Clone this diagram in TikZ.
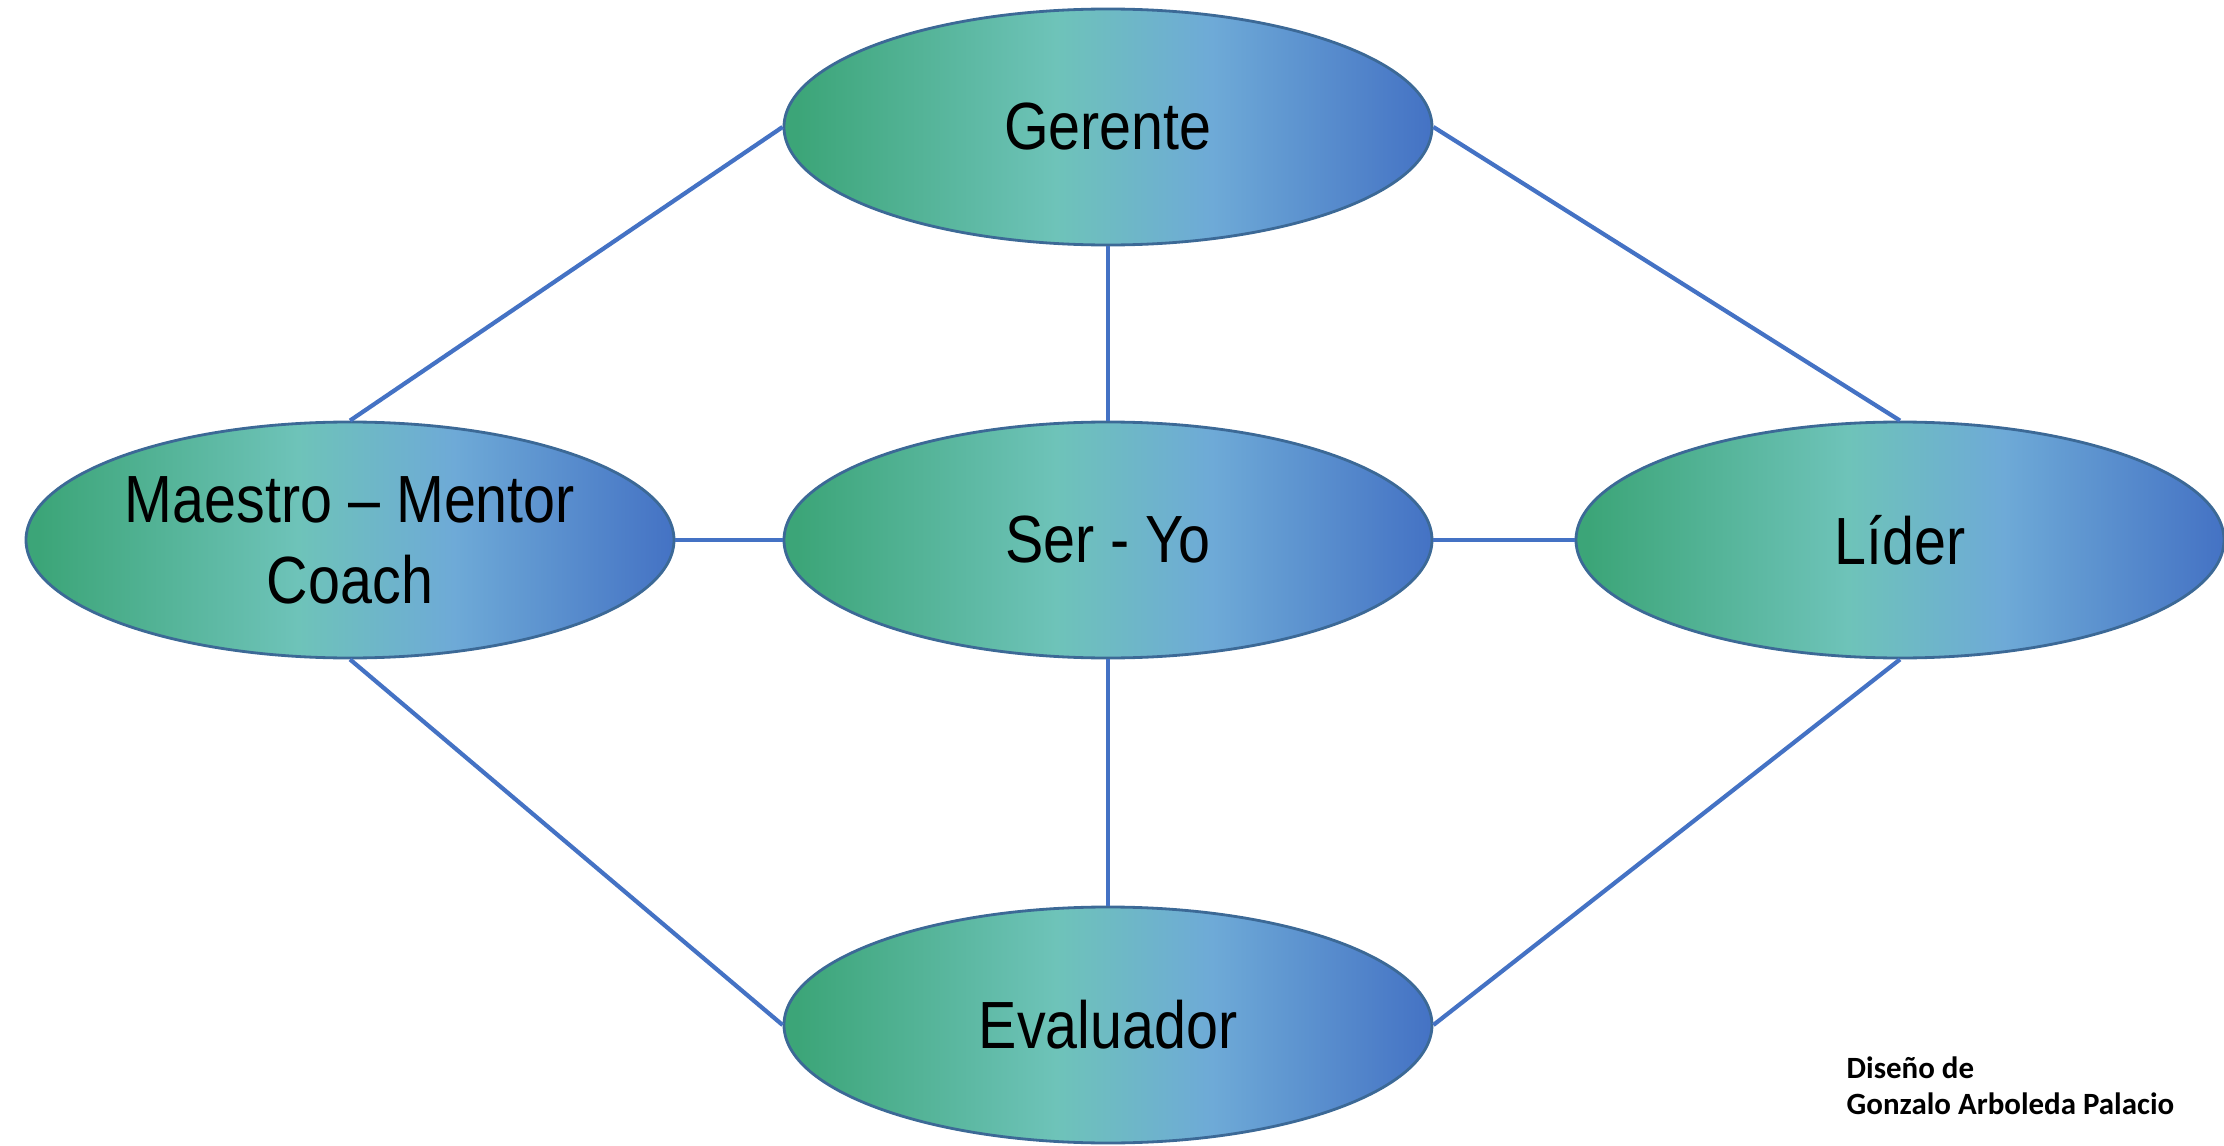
\documentclass[tikz,border=0pt]{standalone}
\usepackage{fontspec}
\setmainfont{Liberation Sans}
\newfontfamily\rolfont[FakeStretch=0.86]{Liberation Sans}
\newfontfamily\firmafont{Carlito}
\usetikzlibrary{shapes.geometric}
\definecolor{verde}{RGB}{60,165,120}
\definecolor{turquesa}{RGB}{110,195,185}
\definecolor{celeste}{RGB}{110,170,215}
\definecolor{azul}{RGB}{68,114,196}
\definecolor{borde}{RGB}{60,105,150}
\pgfdeclarehorizontalshading{rolsombra}{100bp}{color(0bp)=(verde); color(26bp)=(verde);
  color(46bp)=(turquesa); color(58bp)=(celeste); color(75bp)=(azul); color(100bp)=(azul)}
\tikzset{
  rol/.style={ellipse, draw=borde, line width=0.8pt, shading=rolsombra,
    minimum width=6.48cm, minimum height=2.36cm, inner sep=0pt,
    align=center, font=\rolfont\fontsize{19}{23}\selectfont},
  enlace/.style={azul, line width=1.2pt}
}

\begin{document}
\begin{tikzpicture}
\useasboundingbox (0, 0) rectangle (22.24, -11.46);
\node[rol] (ger) at (11.08, -1.27) {Gerente};
\node[rol] (mae) at (3.50, -5.40) {Maestro – Mentor\\Coach};
\node[rol] (ser) at (11.08, -5.40) {Ser - Yo};
\node[rol] (lid) at (19.00, -5.40) {Líder};
\node[rol] (eva) at (11.08, -10.25) {Evaluador};
\draw[enlace] (ger.west) -- (mae.north);
\draw[enlace] (ger.east) -- (lid.north);
\draw[enlace] (ger) -- (ser);
\draw[enlace] (mae) -- (ser);
\draw[enlace] (ser) -- (lid);
\draw[enlace] (ser) -- (eva);
\draw[enlace] (mae.south) -- (eva.west);
\draw[enlace] (lid.south) -- (eva.east);
\node[anchor=north west, inner sep=0pt, align=left, font=\firmafont\bfseries\fontsize{8.8}{10.4}\selectfont] (firma) at (18.46, -10.56) {Diseño de\\Gonzalo Arboleda Palacio};
\end{tikzpicture}
\end{document}
